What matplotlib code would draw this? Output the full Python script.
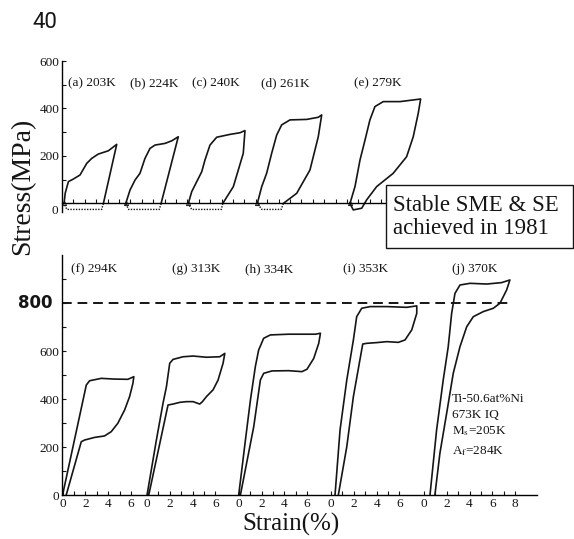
import numpy as np
import matplotlib
matplotlib.use("Agg")
import matplotlib.pyplot as plt
from matplotlib.patches import Rectangle

plt.rcParams['font.family'] = ['Liberation Serif', 'DejaVu Serif']
plt.rcParams['mathtext.fontset'] = 'stix'

W, H = 574, 539

#-- top row (SME), strain in % from each loop's own origin, stress in MPa
top_names = ["(a) 203K", "(b) 224K", "(c) 240K", "(d) 261K", "(e) 279K"]

a_strain = [0, 0.1, 0.38, 0.82, 1.4, 1.99, 2.43, 3.0, 3.89, 4.62, 3.45]
a_stress = [0, 43, 92, 103, 120, 169, 190, 208, 222, 249, 0]
a_rec_strain = [3.45, 3.3, 0.25, 0]
a_rec_stress = [0, -25, -25, 0]

b_strain = [0, 0.38, 0.82, 1.25, 1.69, 2.13, 2.57, 3.45, 4.04, 4.61, 3.1]
b_stress = [0, 57, 99, 127, 190, 232, 246, 253, 264, 281, 0]
b_rec_strain = [3.1, 2.95, 0.25, 0]
b_rec_stress = [0, -25, -25, 0]

c_strain = [0, 0.3, 0.74, 1.18, 1.46, 1.9, 2.49, 3.66, 4.54, 4.97, 4.82, 3.95, 3.02]
c_stress = [0, 50, 92, 134, 183, 246, 279, 291, 298, 307, 211, 71, 0]
c_rec_strain = [3.02, 2.9, 0.3, 0]
c_rec_stress = [0, -25, -25, 0]

d_strain = [0, 0.39, 0.82, 1.26, 1.7, 2.14, 2.87, 4.33, 5.35, 5.65, 5.35, 4.62, 3.46, 2.28]
d_stress = [0, 71, 127, 211, 288, 331, 352, 354, 363, 373, 281, 141, 43, 0]
d_rec_strain = [2.28, 2.1, 0.4, 0]
d_rec_stress = [0, -25, -25, 0]

e_strain = [0, 0.44, 0.88, 1.32, 1.75, 2.19, 2.92, 4.39, 5.55, 6.2,
            5.99, 5.55, 4.97, 3.79, 2.34, 1.46, 1.03, 0.29, 0]
e_stress = [0, 71, 183, 267, 352, 408, 429, 429, 436, 440,
            380, 281, 197, 127, 71, 15, -20, -27, 0]

#-- bottom row (SE)
bottom_names = ["(f) 294K", "(g) 313K", "(h) 334K", "(i) 353K", "(j) 370K"]

f_strain = [0, 2.08, 2.37, 3.39, 4.56, 5.73, 6.25,
            6.17, 5.88, 5.44, 4.85, 4.27, 3.68, 2.81, 1.93, 1.64, 0.32]
f_stress = [0, 458, 476, 486, 483, 482, 493,
            465, 410, 354, 299, 264, 246, 240, 229, 222, 0]

g_strain = [0, 0.82, 1.4, 1.7, 1.99, 2.28, 3.16, 4.04, 5.21, 6.38, 6.82,
            6.67, 6.23, 5.79, 5.21, 4.86, 4.62, 4.04, 3.45, 2.87, 2.28, 1.84, 0.15]
g_stress = [0, 229, 382, 451, 549, 565, 576, 579, 574, 576, 590,
            549, 479, 438, 410, 389, 379, 389, 389, 386, 379, 375, 0]

h_strain = [0, 0.59, 1.03, 1.46, 1.75, 2.19, 2.78, 4.39, 5.85, 6.73, 7.17,
            7.02, 6.58, 5.99, 5.55, 4.39, 2.92, 2.19, 1.9, 1.32, 0.15]
h_stress = [0, 229, 396, 535, 604, 653, 667, 670, 670, 670, 674,
            632, 569, 524, 514, 518, 517, 507, 479, 285, 0]

i_strain = [0.35, 0.79, 1.38, 1.96, 2.25, 2.69, 3.42, 4.89, 6.64, 7.52,
            7.52, 7.08, 6.49, 5.9, 4.89, 4.01, 3.13, 2.78, 1.96, 1.38, 0.64]
i_stress = [0, 271, 479, 646, 743, 778, 785, 785, 782, 788,
            757, 688, 646, 636, 639, 635, 632, 629, 410, 201, 0]

j_strain = [0.53, 1.11, 1.69, 2.13, 2.43, 2.72, 3.16, 4.04, 5.5, 6.82, 7.54,
            7.25, 6.67, 6.08, 5.2, 4.33, 3.75, 3.16, 2.57, 1.99, 1.4, 0.96]
j_stress = [0, 271, 479, 618, 757, 840, 875, 882, 879, 885, 896,
            854, 799, 778, 764, 743, 701, 618, 507, 340, 174, 0]

alloy_lines = ["Ti-50.6at%Ni", "673K IQ", "M$_\\mathrm{s}$=205K", "A$_\\mathrm{f}$=284K"]
limit_stress = 800

#-- layout
top_offset = [0.18, 5.59, 11.08, 17.13, 25.26]
bot_offset = [0.05, 7.46, 15.5, 23.6, 31.75]
bot_ticks_max = [6, 6, 6, 6, 8]
px = 11.4          # pixels per 1 % strain
x0 = 62
xr = (537 - x0) / px
ink = '#151515'


def fig_rect(left, top, right, bottom):
    return [left / W, 1 - bottom / H, (right - left) / W, (bottom - top) / H]


fig = plt.figure(figsize=(W / 100, H / 100), dpi=100)
ax1 = fig.add_axes(fig_rect(x0, 61, 537, 211.8))
ax2 = fig.add_axes(fig_rect(x0, 255, 537, 495))

for ax in (ax1, ax2):
    ax.spines['top'].set_visible(False)
    ax.spines['right'].set_visible(False)
    ax.spines['left'].set_linewidth(1.0)
    ax.spines['bottom'].set_linewidth(1.0)
    ax.set_xlim(0, xr)
    ax.tick_params(which='both', direction='in', length=3, width=0.8,
                   labelsize=9.5, colors=ink, pad=2)

# top panel
ax1.set_ylim(-35, 600)
ax1.spines['bottom'].set_position(('data', 0))
ax1.set_yticks([0, 200, 400, 600])
ax1.set_yticklabels(['', '200', '400', '600'])
ax1.set_yticks([100, 300, 500], minor=True)
ax1.text(-0.35, -5, "0", ha='right', va='top', fontsize=9.5, color=ink)
ax1.set_xticks(np.arange(1, 30, 1))
ax1.set_xticklabels([])
top_loops = [(a_strain, a_stress), (b_strain, b_stress), (c_strain, c_stress),
             (d_strain, d_stress), (e_strain, e_stress)]
top_rec = [(a_rec_strain, a_rec_stress), (b_rec_strain, b_rec_stress),
           (c_rec_strain, c_rec_stress), (d_rec_strain, d_rec_stress)]
for k, (xs, ys) in enumerate(top_loops):
    off = top_offset[k]
    ax1.plot(np.array(xs) + off, ys, color=ink, lw=1.2)
    ax1.plot([off], [0], marker='^', ms=3, mfc='none', mec=ink, mew=0.7)
    ax1.text(off + 0.35, 507, top_names[k], fontsize=9.5, va='center', color=ink)
for k, (xs, ys) in enumerate(top_rec):
    ax1.plot(np.array(xs) + top_offset[k], ys, color=ink, lw=1.0, ls=(0, (1, 1)))

# bottom panel
ax2.set_ylim(0, 1000)
ax2.set_yticks([0, 200, 400, 600])
ax2.set_yticks([100, 300, 500, 700, 800, 900], minor=True)
major, labels, minor = [], [], []
for k, off in enumerate(bot_offset):
    for s in range(0, bot_ticks_max[k] + 1):
        if s % 2 == 0:
            major.append(off + s)
            labels.append(str(s))
        else:
            minor.append(off + s)
ax2.set_xticks(major)
ax2.set_xticklabels(labels)
ax2.set_xticks(minor, minor=True)

bot_loops = [(f_strain, f_stress), (g_strain, g_stress), (h_strain, h_stress),
             (i_strain, i_stress), (j_strain, j_stress)]
for k, (xs, ys) in enumerate(bot_loops):
    off = bot_offset[k]
    ax2.plot(np.array(xs) + off, ys, color=ink, lw=1.2)
for k, name in enumerate(bottom_names):
    ax2.text(bot_offset[k] + [0.75, 2.2, 0.55, 1.05, 2.45][k], 942, name,
             fontsize=9.5, va='center', color=ink)

ax2.plot([0, bot_offset[4] + 7.55], [limit_stress, limit_stress], color=ink,
         lw=1.4, ls=(0, (5, 3)))
ax2.text(-0.85, limit_stress, str(limit_stress), ha='right', va='center',
         fontsize=12, fontweight='bold', family='DejaVu Sans', color=ink)

for n, line in enumerate(alloy_lines):
    ax2.text(34.2, [400, 333, 267, 183][n], line, fontsize=9.5, va='center', color=ink)

# axis titles and page number
fig.text(23 / W, 1 - 186 / H, "Stress(MPa)", rotation=90, ha='center', va='center',
         fontsize=20, color=ink)
fig.text(291 / W, 1 - 524 / H, "Strain(%)", ha='center', va='center',
         fontsize=18, color=ink)
fig.text(32 / W, 1 - 22 / H, "40", ha='left', va='center', fontsize=16,
         family='Roboto', color=ink)

# note box
box = Rectangle((386 / W, 1 - 248 / H), (573 - 386) / W, (248 - 185) / H,
                transform=fig.transFigure, facecolor='white', edgecolor=ink, lw=1.0)
fig.add_artist(box)
fig.text(393 / W, 1 - 217 / H, "Stable SME & SE\nachieved in 1981", ha='left',
         va='center', fontsize=16.5, linespacing=1.15, color=ink)

fig.savefig("out.png", dpi=100)
